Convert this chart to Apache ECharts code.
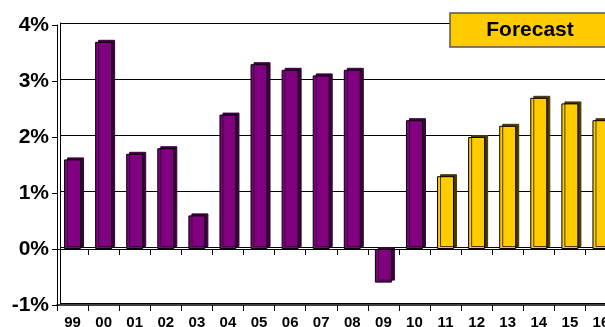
<!DOCTYPE html>
<html><head><meta charset="utf-8">
<script src="https://cdn.jsdelivr.net/npm/echarts@6/dist/echarts.min.js"></script>
<style>html,body{margin:0;padding:0;background:#fff;overflow:hidden}#c{width:605px;height:327px}</style>
</head><body><div id="c"></div>
<script>
const categories = ['99','00','01','02','03','04','05','06','07','08','09','10','11','12','13','14','15','16'];
const growth = [1.6, 3.7, 1.7, 1.8, 0.6, 2.4, 3.3, 3.2, 3.1, 3.2, -0.6, 2.3, 1.3, 2.0, 2.2, 2.7, 2.6, 2.3];
const forecastStart = 12;
const yTicks = [-1, 0, 1, 2, 3, 4];
const forecastLabel = 'Forecast';

const FONT = 'Arial, "Liberation Sans", sans-serif';
const G = {left: 57, top: 25, width: 559.5, height: 280};
const DX = 3, DY = -2;
const chart = echarts.init(document.getElementById('c'), null, {renderer: 'canvas'});

const data = growth.map((v, i) => {
  const fc = i >= forecastStart;
  return {
    value: v,
    itemStyle: {
      color: fc ? '#FFCC00' : '#800080',
      borderColor: '#000', borderWidth: 1,
      shadowColor: fc ? '#473800' : '#3a003a',
      shadowBlur: 0, shadowOffsetX: 3, shadowOffsetY: -2
    }
  };
});

const yMin = yTicks[0], yMax = yTicks[yTicks.length - 1];

chart.setOption({
  animation: false,
  backgroundColor: '#fff',
  grid: [
    {left: G.left, top: G.top, width: G.width, height: G.height, containLabel: false, outerBoundsMode: 'none'},
    {left: G.left + DX, top: G.top + DY, width: G.width, height: G.height, containLabel: false, outerBoundsMode: 'none'}
  ],
  xAxis: [{
    type: 'category', data: categories, position: 'bottom', gridIndex: 0,
    axisLine: {onZero: false, lineStyle: {color: '#000', width: 1.5}},
    axisTick: {show: true, length: 6, lineStyle: {color: '#000'}},
    axisLabel: {color: '#000', fontWeight: 'bold', fontSize: 15, fontFamily: FONT, margin: 10},
    splitLine: {show: false}, z: 3
  }, {
    type: 'category', data: categories, position: 'top', gridIndex: 0,
    axisLine: {onZero: true, lineStyle: {color: '#000', width: 1}},
    axisTick: {show: true, inside: true, length: 6, lineStyle: {color: '#000'}},
    axisLabel: {show: false},
    splitLine: {show: false}, z: 3
  }, {
    type: 'category', data: categories, position: 'bottom', gridIndex: 1,
    axisLine: {show: false}, axisTick: {show: false}, axisLabel: {show: false}, splitLine: {show: false}
  }],
  yAxis: [{
    type: 'value', min: yMin, max: yMax, interval: 1, gridIndex: 0,
    axisLine: {show: true, lineStyle: {color: '#000', width: 1}},
    axisTick: {show: true, length: 5, lineStyle: {color: '#000'}},
    axisLabel: {formatter: '{value}%', color: '#000', fontWeight: 'bold', fontSize: 21, fontFamily: FONT, margin: 8},
    splitLine: {show: false}, z: 3
  }, {
    type: 'value', min: yMin, max: yMax, interval: 1, gridIndex: 1,
    axisLine: {show: true, lineStyle: {color: '#000', width: 1}},
    axisTick: {show: false}, axisLabel: {show: false},
    splitLine: {show: true, lineStyle: {color: '#000', width: 1}}
  }],
  series: [{
    type: 'bar', xAxisIndex: 0, yAxisIndex: 0, data: data, barWidth: 17, z: 2
  }],
  graphic: [
    {type: 'rect', shape: {x: 450, y: 13, width: 190, height: 34}, style: {fill: '#FFCC00', stroke: '#555', lineWidth: 1.5}, z: 10},
    {type: 'text', x: 530, y: 30, style: {text: forecastLabel, font: 'bold 21px ' + FONT, fill: '#000', textAlign: 'center', textVerticalAlign: 'middle'}, z: 11}
  ]
});
</script></body></html>
